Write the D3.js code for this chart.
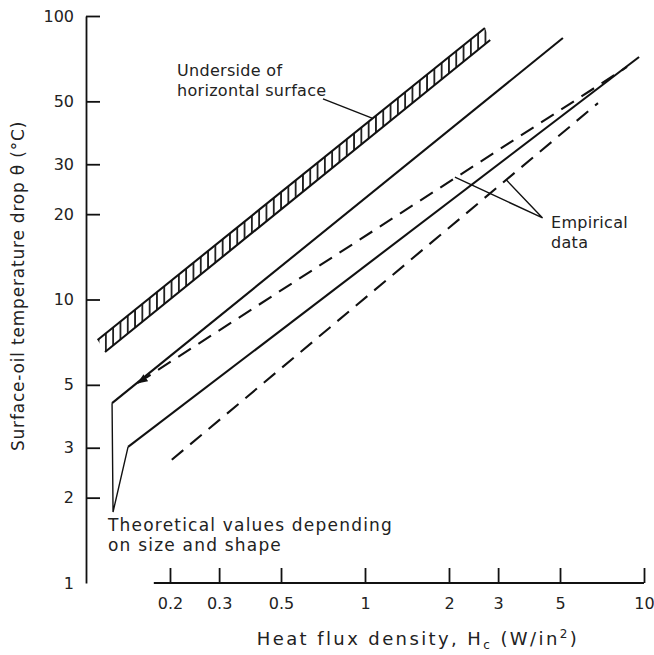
<!DOCTYPE html>
<html>
<head>
<meta charset="utf-8">
<script src="https://cdn.jsdelivr.net/npm/d3@7"></script>
<style>
  body { margin: 0; background: #fff; }
  text { font-family: "DejaVu Sans", sans-serif; fill: #222; }
</style>
</head>
<body>
<script>
// Chart size
const width = 654, height = 655;

// Axis ticks
const xTicks = [0.2, 0.3, 0.5, 1, 2, 3, 5, 10];
const yTicks = [1, 2, 3, 5, 10, 20, 30, 50, 100];

// Lines, as [heat flux W/in2, temperature drop C]
const bandUpper = [[0.110, 7.2], [2.69, 90.7]];
const bandLower = [[0.117, 6.53], [2.81, 82.3]];
const theoryHigh = [[0.124, 4.31], [5.12, 83.6]];
const theoryLow = [[0.1415, 3.02], [9.6, 71.7]];
const empiricalHigh = [[0.1535, 5.08], [8.69, 66.1]];
const empiricalLow = [[0.203, 2.72], [6.84, 49.3]];

// Leader lines for the notes
const theoryLeader = [[0.124, 4.31], [0.125, 1.78], [0.1415, 3.02]];
const undersideLeader = [[0.707, 51], [1.06, 43.6]];
const empiricalLeader = [[2.1, 27], [4.33, 19.4], [3.2, 26.5]];

const svg = d3.select("body").append("svg")
    .attr("width", width)
    .attr("height", height);

// log scales, both axes
const x = d3.scaleLog().domain([0.1, 10]).range([86, 644]);
const y = d3.scaleLog().domain([1, 100]).range([583, 16]);

const line = d3.line().x(d => x(d[0])).y(d => y(d[1]));

// hatch pattern for the band (plain vertical strokes)
const defs = svg.append("defs");
defs.append("pattern")
    .attr("id", "hatch")
    .attr("patternUnits", "userSpaceOnUse")
    .attr("width", 7.3)
    .attr("height", 10)
  .append("rect")
    .attr("x", 2.8).attr("y", 0)
    .attr("width", 1.7).attr("height", 10)
    .attr("fill", "#111");

defs.append("marker")
    .attr("id", "arrow")
    .attr("viewBox", "0 0 10 10")
    .attr("refX", 9).attr("refY", 5)
    .attr("markerWidth", 5).attr("markerHeight", 5)
    .attr("orient", "auto-start-reverse")
  .append("path")
    .attr("d", "M0,1L10,5L0,9Z")
    .attr("fill", "#111");

// Y axis, ticks pointing into the plot
const yAxis = svg.append("g")
    .attr("transform", `translate(${x(0.1)},0)`)
    .call(d3.axisLeft(y)
        .tickValues(yTicks)
        .tickFormat(d3.format("d"))
        .tickSizeInner(-14)
        .tickSizeOuter(0)
        .tickPadding(12));
yAxis.selectAll(".tick").filter(d => d === 1).select("line").remove();

// X axis sits on the y=1 line, ticks pointing up
const xAxis = svg.append("g")
    .attr("transform", `translate(0,${y(1)})`)
    .call(d3.axisBottom(x)
        .tickValues(xTicks)
        .tickFormat(d => String(d))
        .tickSizeInner(-15)
        .tickSizeOuter(0)
        .tickPadding(15));
xAxis.select(".domain").remove();
xAxis.append("line")
    .attr("x1", x(0.175)).attr("x2", x(10))
    .attr("stroke", "#111");

svg.selectAll(".domain, .tick line")
    .attr("stroke", "#111")
    .attr("stroke-width", 1.8);
svg.selectAll(".tick text")
    .attr("font-size", 16)
    .attr("fill", "#222")
    .attr("font-family", "DejaVu Sans, sans-serif");
xAxis.selectAll("line").attr("stroke-width", 1.8);

// hatched band
svg.append("path")
    .attr("d", line(bandUpper.concat(bandLower.slice().reverse())) + "Z")
    .attr("fill", "url(#hatch)")
    .attr("stroke", "none");

const drawLine = (data, dash) => {
  const p = svg.append("path")
      .attr("d", line(data))
      .attr("fill", "none")
      .attr("stroke", "#111")
      .attr("stroke-width", 2.1);
  if (dash) p.attr("stroke-dasharray", dash);
  return p;
};

drawLine(bandUpper);
drawLine(bandLower);
drawLine(theoryHigh);
drawLine(theoryLow);
drawLine(empiricalHigh, "15 9").attr("marker-start", "url(#arrow)");
drawLine(empiricalLow, "15 9");

// leaders
[theoryLeader, undersideLeader, empiricalLeader].forEach(d => {
  svg.append("path")
      .attr("d", line(d))
      .attr("fill", "none")
      .attr("stroke", "#111")
      .attr("stroke-width", 1.4);
});

// notes
const note = (lines, px, py, size, spacing) => {
  const t = svg.append("text")
      .attr("font-size", size)
      .attr("letter-spacing", spacing);
  lines.forEach((s, i) => {
    t.append("tspan").attr("x", px).attr("y", py + i * 19.5).text(s);
  });
};
note(["Underside of", "horizontal surface"], 177, 76, 16, 0.3);
note(["Empirical", "data"], 551, 228, 16, 0.3);
note(["Theoretical values depending", "on size and shape"], 108, 531, 17, 1.2);

// axis titles
svg.append("text")
    .attr("transform", "translate(24,286) rotate(-90)")
    .attr("text-anchor", "middle")
    .attr("font-size", 17)
    .attr("letter-spacing", 0.8)
    .text("Surface-oil temperature drop \u03B8 (\u00B0C)");

const xt = svg.append("text")
    .attr("x", 418).attr("y", 645)
    .attr("text-anchor", "middle")
    .attr("font-size", 18)
    .attr("letter-spacing", 2.4);
xt.append("tspan").text("Heat flux density, H");
xt.append("tspan").attr("font-size", 12).attr("dy", 4).text("c");
xt.append("tspan").attr("dy", -4).text(" (W/in");
xt.append("tspan").attr("font-size", 12).attr("dy", -7).text("2");
xt.append("tspan").attr("dy", 7).text(")");
</script>
</body>
</html>
